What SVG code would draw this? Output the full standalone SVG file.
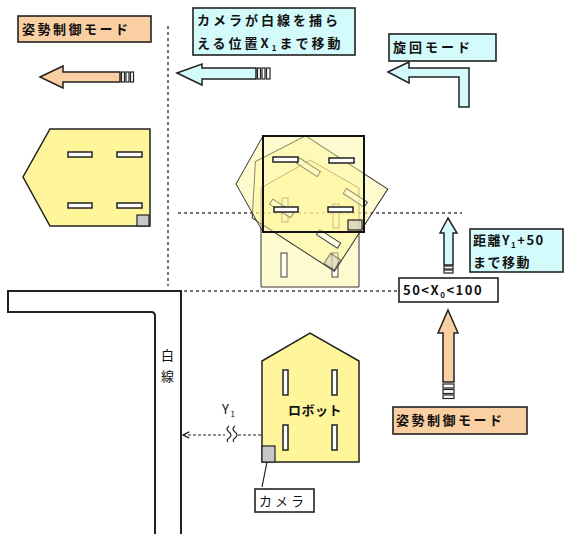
<svg xmlns="http://www.w3.org/2000/svg" width="564" height="534" viewBox="0 0 564 534">
  <defs>
    <style>
      .box { stroke: #222; stroke-width: 1.6; }
      .orange { fill: #fad0a2; }
      .cyan { fill: #d4fbfb; }
      .white { fill: #ffffff; }
      .txt { font-family: "Noto Sans CJK JP", "Noto Sans", sans-serif; font-size: 13px; font-weight: bold; fill: #111; letter-spacing: 1.5px; }
      .wide { letter-spacing: 3px; }
      .sub { font-size: 8px; }
      .arrow { stroke: #222; stroke-width: 1.5; stroke-linejoin: miter; }
      .bar { stroke: #222; stroke-width: 1.2; }
      .dot { fill: none; stroke: #444; stroke-width: 1.5; stroke-dasharray: 3 3; }
      .robot { fill: #fff59a; stroke: #222; stroke-width: 1.5; }
      .slot { fill: #ffffff; stroke: #222; stroke-width: 1.5; }
      .cam { fill: #c8c8c8; stroke: #222; stroke-width: 1.2; }
      .ghost { fill: #fff79a; fill-opacity: 0.45; stroke: #333; stroke-width: 1; }
      .ghostslot { fill: #ffffff; fill-opacity: 0.6; stroke: #444; stroke-width: 1; }
      .road { fill: none; stroke: #222; stroke-width: 2; }
    </style>
    <marker id="ah" viewBox="0 0 8 8" refX="7" refY="4" markerWidth="7" markerHeight="7" orient="auto-start-reverse">
      <path d="M1,1 L7,4 L1,7" fill="none" stroke="#222" stroke-width="1.2"/>
    </marker>
  </defs>

  <!-- guide lines -->
  <g id="guides">
    <line class="dot" x1="168" y1="26" x2="168" y2="286"/>
    <line class="dot" x1="178" y1="213" x2="462" y2="213"/>
    <line class="dot" x1="184" y1="291" x2="397" y2="291"/>
  </g>

  <!-- white line on the floor -->
  <g id="whiteline">
    <path class="road" d="M181,534 V291 H8 V312 H151 Q155,312 155,316 V534"/>
    <text class="txt" x="161" y="360" font-size="14" style="font-weight:normal">白</text>
    <text class="txt" x="161" y="381" font-size="14" style="font-weight:normal">線</text>
  </g>

  <!-- mode labels -->
  <g id="label-attitude-top">
    <rect class="box orange" x="18" y="16" width="133" height="26"/>
    <text class="txt wide" x="22" y="34" style="letter-spacing:2.5px">姿勢制御モード</text>
  </g>
  <g id="label-move-x1">
    <rect class="box cyan" x="193" y="8" width="162" height="47"/>
    <text class="txt wide" x="197" y="25">カメラが白線を捕ら</text>
    <text class="txt wide" x="197" y="48">える位置X<tspan class="sub" dy="3">1</tspan><tspan dy="-3">まで移動</tspan></text>
  </g>
  <g id="label-turn">
    <rect class="box cyan" x="389" y="34" width="107" height="27"/>
    <text class="txt wide" x="393" y="52">旋回モード</text>
  </g>
  <g id="label-move-y1">
    <rect class="box cyan" x="470" y="229" width="93" height="43"/>
    <text class="txt" x="473" y="245">距離Y<tspan class="sub" dy="3">1</tspan><tspan dy="-3">+50</tspan></text>
    <text class="txt" x="473" y="267">まで移動</text>
  </g>
  <g id="label-condition">
    <rect class="box white" x="399" y="278" width="99" height="24"/>
    <text class="txt" x="403" y="295">50&lt;X<tspan class="sub" dy="3">0</tspan><tspan dy="-3">&lt;100</tspan></text>
  </g>
  <g id="label-attitude-bottom">
    <rect class="box orange" x="393" y="407" width="134" height="27"/>
    <text class="txt" x="396" y="425" style="letter-spacing:2.5px">姿勢制御モード</text>
  </g>

  <!-- block arrows -->
  <g id="connectors">
    <polygon class="arrow orange" points="40,77 63,66 63,72 120,72 120,82 63,82 63,88"/>
    <rect class="bar white" x="121.5" y="72" width="3" height="10"/>
    <rect class="bar white" x="126" y="72" width="3" height="10"/>
    <rect class="bar white" x="130.5" y="72" width="3" height="10"/>

    <polygon class="arrow cyan" points="177,73 202,64 202,68 256,68 256,79 202,79 202,85"/>
    <rect class="bar white" x="257.5" y="68" width="3" height="11"/>
    <rect class="bar white" x="262" y="68" width="3" height="11"/>
    <rect class="bar white" x="266.5" y="68" width="3.5" height="11"/>

    <polygon class="arrow cyan" points="388,72 409,62 409,68 469,68 469,107 459,107 459,77 409,77 409,83"/>

    <polygon class="arrow cyan" points="448,218 457,233 453,233 453,265 444,265 444,233 440,233"/>
    <rect class="bar white" x="444" y="266" width="9" height="3"/>
    <rect class="bar white" x="444" y="270" width="9" height="3"/>

    <polygon class="arrow orange" points="448,310 458,333 454,333 454,382 443,382 443,333 438,333"/>
    <rect class="bar white" x="443" y="384" width="11" height="4"/>
    <rect class="bar white" x="443" y="389.5" width="11" height="4"/>
    <rect class="bar white" x="443" y="395" width="11" height="3.5"/>

    <!-- distance Y1 to the white line -->
    <line x1="183" y1="435" x2="225" y2="435" stroke="#222" stroke-width="1.2" stroke-dasharray="3 2" marker-start="url(#ah)"/>
    <line x1="238" y1="435" x2="279" y2="435" stroke="#222" stroke-width="1.2" stroke-dasharray="3 2" marker-end="url(#ah)"/>
    <path d="M229,426 q-4,3 0,6 q4,3 0,6 q-3,2 -1,4 M235,426 q-4,3 0,6 q4,3 0,6 q-3,2 -1,4" fill="none" stroke="#222" stroke-width="1.2"/>
    <text class="txt" x="222" y="414" style="font-weight:normal">Y<tspan class="sub" dy="3">1</tspan></text>

    <!-- camera pointer -->
    <line x1="267" y1="462" x2="262" y2="487" stroke="#222" stroke-width="1.2"/>
  </g>

  <!-- robot after turning, facing left -->
  <g id="robot-left">
    <polygon class="robot" points="50,129 150,129 150,226 50,226 23,177"/>
    <rect class="slot" x="68" y="152" width="24" height="5"/>
    <rect class="slot" x="117" y="152" width="25" height="5"/>
    <rect class="slot" x="68" y="203" width="24" height="5"/>
    <rect class="slot" x="117" y="203" width="25" height="5"/>
    <rect class="cam" x="137" y="215" width="12" height="11"/>
  </g>

  <!-- turning sequence: upright, mid-turn, facing left -->
  <g id="robot-turning">
    <g id="turn-start">
      <polygon class="ghost" points="261,188 310,160 359,188 359,287 261,287"/>
      <rect class="ghostslot" x="282" y="198" width="6" height="24"/>
      <rect class="ghostslot" x="333" y="204" width="6" height="24"/>
      <rect class="ghostslot" x="281" y="253" width="6" height="24"/>
      <rect class="ghostslot" x="332" y="253" width="6" height="24"/>
    </g>
    <g id="turn-middle" transform="translate(320,203.5) rotate(-57)">
      <polygon class="ghost" points="-49,-49 0,-77 49,-49 49,49 -49,49"/>
      <rect class="ghostslot" x="21" y="-42" width="6" height="25"/>
      <rect class="ghostslot" x="21" y="14" width="6" height="25"/>
      <rect class="ghostslot" x="-28" y="-42" width="6" height="25"/>
      <rect class="ghostslot" x="-28" y="14" width="6" height="25"/>
      <rect class="cam" x="-48" y="36" width="12" height="12" opacity="0.5"/>
    </g>
    <g id="turn-end">
      <polygon class="ghost" points="263,136 236,184 263,232"/>
      <rect x="263" y="136" width="101" height="96" fill="#fff79a" fill-opacity="0.45" stroke="#111" stroke-width="2"/>
      <rect class="slot" x="273" y="157" width="25" height="5"/>
      <rect class="slot" x="329" y="158" width="25" height="5"/>
      <rect class="slot" x="274" y="207" width="24" height="5"/>
      <rect class="slot" x="328" y="207" width="25" height="5"/>
      <rect class="cam" x="348" y="220" width="14" height="10" fill-opacity="0.6"/>
    </g>
  </g>

  <!-- robot at start, facing up -->
  <g id="robot-start">
    <polygon class="robot" points="262,361 310,333 359,361 359,462 262,462"/>
    <rect class="slot" x="283" y="370" width="5" height="25"/>
    <rect class="slot" x="332" y="370" width="5" height="25"/>
    <rect class="slot" x="283" y="425" width="5" height="25"/>
    <rect class="slot" x="332" y="425" width="5" height="25"/>
    <rect class="cam" x="262" y="446" width="13" height="16"/>
    <text class="txt" x="288" y="415" font-size="12" style="letter-spacing:0.5px">ロボット</text>
  </g>

  <!-- camera label -->
  <g id="label-camera">
    <rect class="box white" x="255" y="489" width="59" height="23" stroke-width="1.4"/>
    <text class="txt" x="259" y="506" style="font-weight:normal;letter-spacing:3px">カメラ</text>
  </g>
</svg>
